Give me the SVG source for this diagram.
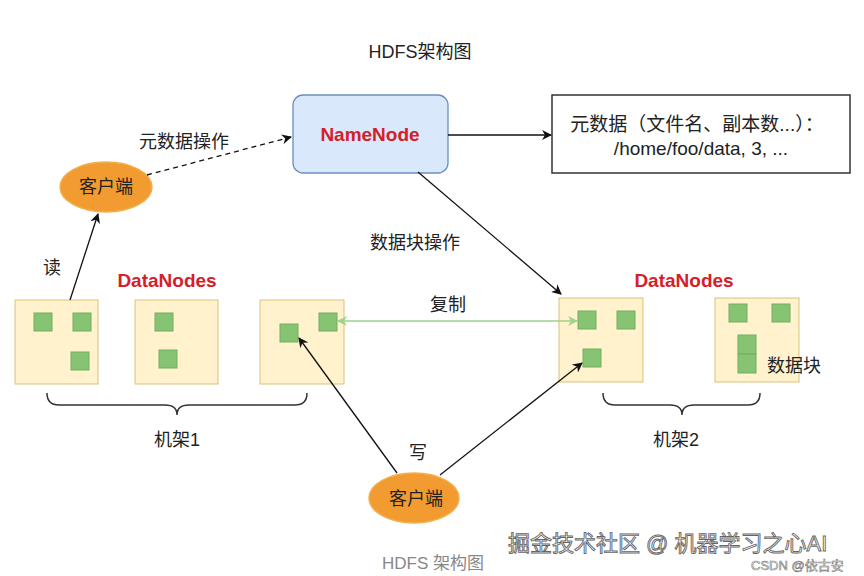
<svg xmlns="http://www.w3.org/2000/svg" width="864" height="576" viewBox="0 0 864 576">
<defs>
<style>
text{font-family:"Liberation Sans","Noto Sans CJK SC",sans-serif;fill:#222;}
.lbl{font-size:18px;text-anchor:middle;}
.red{font-size:18px;font-weight:bold;fill:#d4202a;text-anchor:middle;}
.dn{fill:#fff2cc;stroke:#d9c27c;stroke-width:1;}
.blk{fill:#86c473;stroke:#74ad60;stroke-width:1;}
.client{fill:#f29b30;stroke:#f0b050;stroke-width:1.5;}
.edge{fill:none;stroke:#111;stroke-width:1.3;}
.brace{fill:none;stroke:#333;stroke-width:1.5;}
</style>
<marker id="arr" viewBox="0 0 10 10" refX="9" refY="5" markerWidth="10" markerHeight="10" orient="auto" markerUnits="userSpaceOnUse">
<path d="M0,0 L10,5 L0,10 L3,5 z" fill="#111"/>
</marker>
<marker id="garr" viewBox="0 0 10 10" refX="9" refY="5" markerWidth="10" markerHeight="10" orient="auto-start-reverse" markerUnits="userSpaceOnUse">
<path d="M0,0 L10,5 L0,10 L3,5 z" fill="#9fd28a"/>
</marker>
</defs>
<rect width="864" height="576" fill="#fff"/>

<text id="title" x="420" y="58" class="lbl">HDFS架构图</text>

<g id="namenode">
<rect x="293" y="95" width="155" height="78" rx="10" fill="#dae8fc" stroke="#6c8ebf" stroke-width="1.3"/>
<text x="370" y="141" class="red" style="font-size:19px">NameNode</text>
</g>

<g id="metadata">
<rect x="552" y="95" width="298" height="78" fill="#fff" stroke="#333" stroke-width="1.5"/>
<text x="697" y="131" class="lbl" style="font-size:19px">元数据（文件名、副本数...）：</text>
<text x="701" y="155" class="lbl" style="font-size:19px">/home/foo/data, 3, ...</text>
</g>

<g id="client-read">
<ellipse cx="106" cy="187" rx="46" ry="25" class="client"/>
<text x="106" y="193" class="lbl">客户端</text>
</g>

<g id="client-write">
<ellipse cx="414" cy="498" rx="45" ry="25" class="client"/>
<text x="416" y="505" class="lbl">客户端</text>
</g>

<g id="datanodes-label-1"><text x="167" y="287" class="red" style="font-size:19px">DataNodes</text></g>
<g id="datanodes-label-2"><text x="684" y="287" class="red" style="font-size:19px">DataNodes</text></g>

<g id="dn1">
<rect x="15" y="300" width="83" height="84" class="dn"/>
<rect x="34" y="313" width="18" height="18" class="blk"/>
<rect x="73" y="313" width="18" height="18" class="blk"/>
<rect x="71" y="352" width="18" height="18" class="blk"/>
</g>
<g id="dn2">
<rect x="135" y="300" width="83" height="84" class="dn"/>
<rect x="155" y="313" width="18" height="18" class="blk"/>
<rect x="159" y="350" width="18" height="18" class="blk"/>
</g>
<g id="dn3">
<rect x="260" y="300" width="84" height="84" class="dn"/>
<rect x="280" y="324" width="18" height="18" class="blk"/>
<rect x="319" y="313" width="18" height="18" class="blk"/>
</g>
<g id="dn4">
<rect x="559" y="298" width="84" height="84" class="dn"/>
<rect x="578" y="311" width="18" height="18" class="blk"/>
<rect x="617" y="311" width="18" height="18" class="blk"/>
<rect x="583" y="349" width="18" height="18" class="blk"/>
</g>
<g id="dn5">
<rect x="715" y="298" width="84" height="84" class="dn"/>
<rect x="729" y="304" width="18" height="18" class="blk"/>
<rect x="772" y="304" width="18" height="18" class="blk"/>
<rect x="738" y="335" width="18" height="19" class="blk"/>
<rect x="738" y="354" width="18" height="19" class="blk"/>
<text x="794" y="372" class="lbl">数据块</text>
</g>

<g id="rack1">
<path class="brace" d="M47,393 Q47,405 59,405 L165,405 Q177,405 177,415 Q177,405 189,405 L295,405 Q307,405 307,393"/>
<text x="177" y="446" class="lbl">机架1</text>
</g>
<g id="rack2">
<path class="brace" d="M603,393 Q603,405 615,405 L670,405 Q682,405 682,415 Q682,405 694,405 L748,405 Q760,405 760,393"/>
<text x="676" y="446" class="lbl">机架2</text>
</g>

<g id="connectors">
<line class="edge" x1="448" y1="135" x2="551" y2="135" marker-end="url(#arr)"/>
<line class="edge" x1="147" y1="175" x2="291" y2="137" stroke-dasharray="5,4" marker-end="url(#arr)"/>
<line class="edge" x1="70" y1="300" x2="98" y2="214" marker-end="url(#arr)"/>
<line class="edge" x1="418" y1="172" x2="561" y2="294" marker-end="url(#arr)"/>
<line class="edge" x1="397" y1="473" x2="299" y2="338" marker-end="url(#arr)"/>
<line class="edge" x1="440" y1="475" x2="582" y2="363" marker-end="url(#arr)"/>
<line x1="338" y1="321" x2="577" y2="321" stroke="#9fd28a" stroke-width="1.3" marker-start="url(#garr)" marker-end="url(#garr)"/>
<text x="184" y="148" class="lbl">元数据操作</text>
<text x="52" y="274" class="lbl">读</text>
<text x="415" y="249" class="lbl">数据块操作</text>
<text x="448" y="311" class="lbl">复制</text>
<text x="418" y="459" class="lbl">写</text>
</g>

<text x="433" y="569" class="lbl" style="font-size:17px;fill:#888">HDFS 架构图</text>
<text x="508" y="551" style="font-size:22px;fill:#fff;stroke:#666;stroke-width:0.9">掘金技术社区 @ 机器学习之心AI</text>
<text x="751" y="570" style="font-size:13px;fill:#fff;stroke:#777;stroke-width:0.6">CSDN @依古安</text>
</svg>
